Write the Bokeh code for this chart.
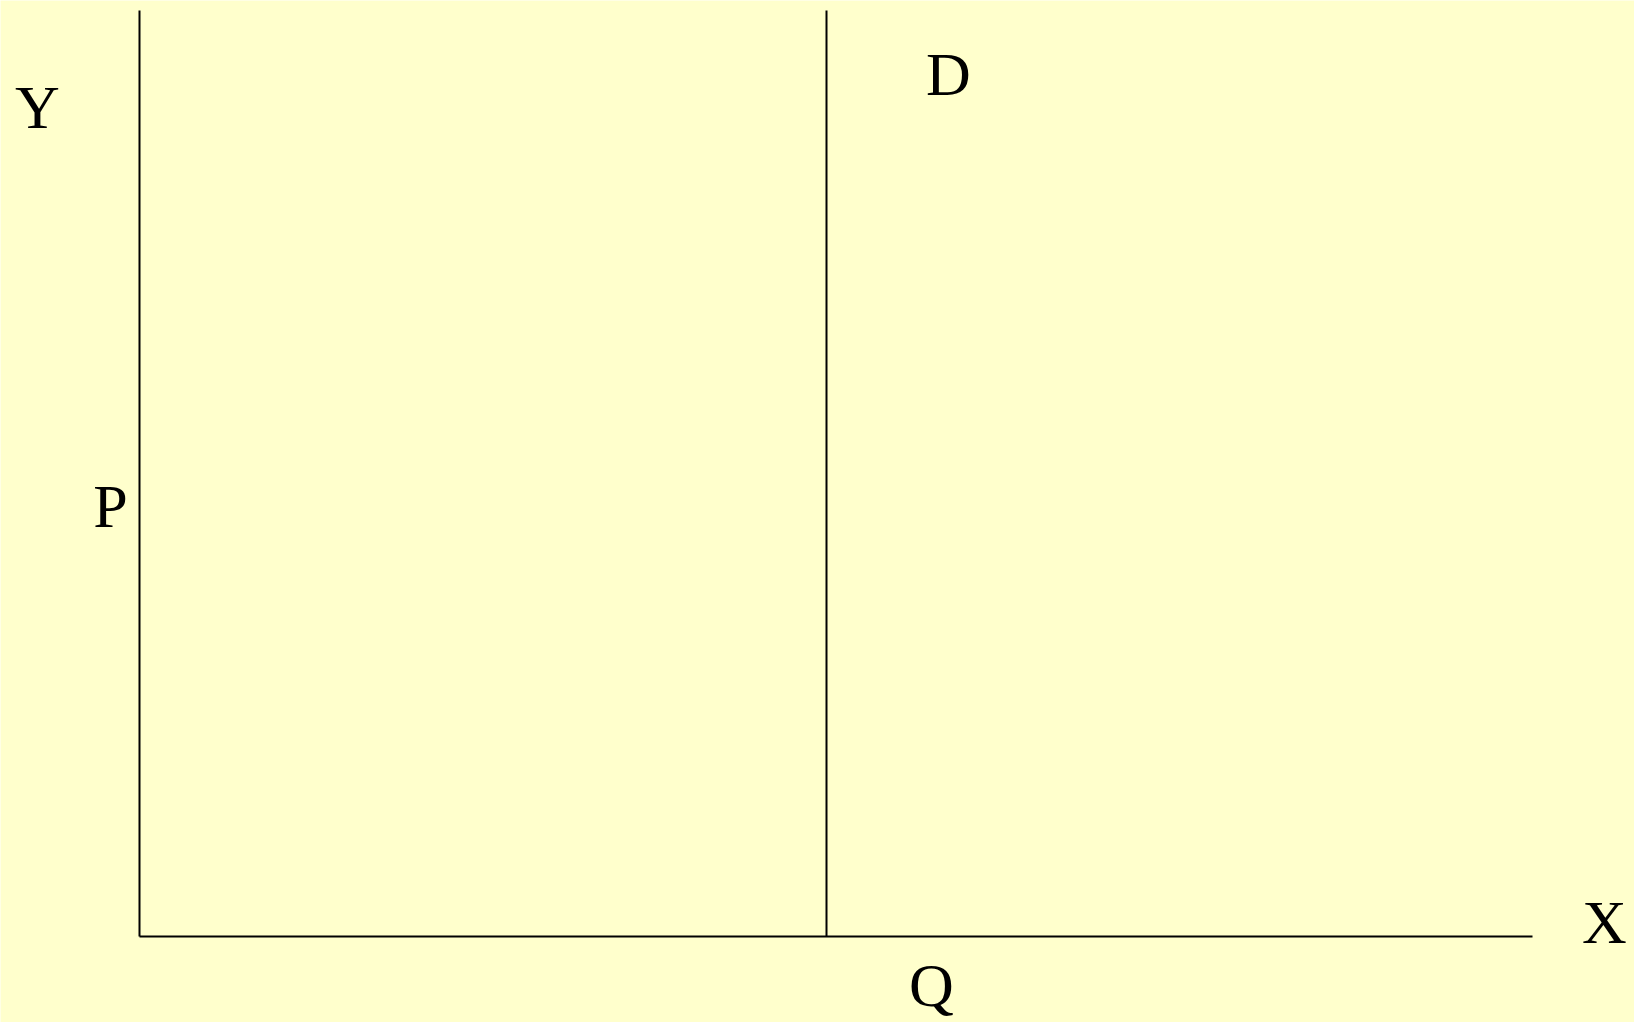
from bokeh.plotting import figure
from bokeh.models import Range1d, ColumnDataSource
from bokeh.core.properties import value
from bokeh.embed import file_html
from bokeh.resources import INLINE

# Diagram data (in data units, origin at the axes corner)
axis_x_end = [0, 1393]          # horizontal axis extent
axis_y_end = [0, 926]           # vertical axis extent
demand_q = 687                  # quantity at which the vertical demand line D stands
demand_top = 926

label_text = ["Y", "P", "D", "Q", "X"]
label_x = [-102, -29, 809, 792, 1465]
label_y = [830, 431, 863, -48, 15]

BG = "#FFFFCC"

p = figure(width=1634, height=1022, output_backend="svg", toolbar_location=None,
           x_range=Range1d(-139, 1495), y_range=Range1d(-86, 936),
           min_border=0, min_border_left=0, min_border_right=0,
           min_border_top=0, min_border_bottom=0)
p.axis.visible = False
p.grid.visible = False
p.outline_line_color = None
p.background_fill_color = BG
p.border_fill_color = BG

# axes
p.line(x=[axis_x_end[0], axis_x_end[0]], y=[axis_y_end[0], axis_y_end[1]], line_color="black", line_width=2)
p.line(x=[axis_x_end[0], axis_x_end[1]], y=[axis_y_end[0], axis_y_end[0]], line_color="black", line_width=2)
# vertical demand line D at Q
p.line(x=[demand_q, demand_q], y=[0, demand_top], line_color="black", line_width=2)

src = ColumnDataSource(dict(x=label_x, y=label_y, t=label_text))
p.text(x="x", y="y", text="t", source=src, text_font=value("Liberation Serif"),
       text_font_size="62px", text_align="center", text_baseline="alphabetic",
       text_color="black")

html = file_html(p, INLINE)
html = html.replace("<body>", '<body style="background:#FFFFCC">', 1)
open("out.html", "w").write(html)
